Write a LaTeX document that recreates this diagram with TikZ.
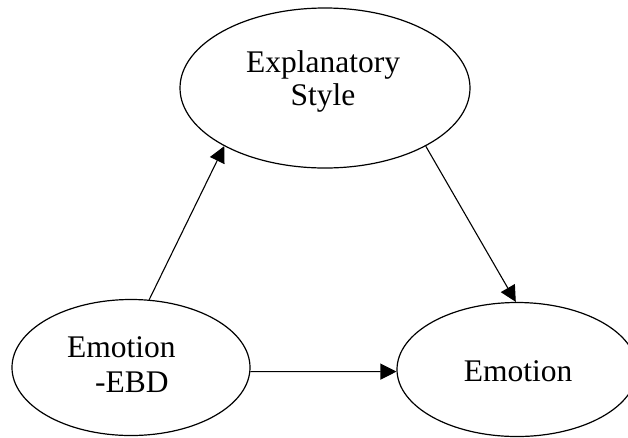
\documentclass[tikz,border=0pt]{standalone}
\usepackage{fontspec}
\setmainfont{Liberation Serif}
\usetikzlibrary{shapes.geometric,arrows.meta}
\tikzset{
  oval/.style={ellipse, draw=black, line width=1.2pt, inner sep=0pt},
  lbl/.style={inner sep=0pt, font=\fontsize{31.5}{33}\selectfont},
  link/.style={draw=black, line width=1.1pt, -{Triangle[length=16pt,width=16pt]}}
}
\begin{document}
\begin{tikzpicture}[x=1pt,y=-1pt]
  \useasboundingbox (0,0) rectangle (628,437);
  \clip (0,0) rectangle (628,437);

  % the three ovals
  \node[oval, minimum width=290pt, minimum height=160pt] (style) at (325,88) {};
  \node[oval, minimum width=238pt, minimum height=136pt] (ebd) at (131,367.5) {};
  \node[oval, minimum width=240pt, minimum height=134pt] (emo) at (517,369.5) {};

  % their labels
  \node[lbl, align=center] (styletext) at (323,81) {Explanatory\\Style};
  \node[lbl, align=left, anchor=west] (ebdtext) at (67,365) {Emotion\\[2pt]\hspace*{28pt}-EBD};
  \node[lbl, anchor=base] (emotext) at (518,381.5) {Emotion};

  % arrows between the ovals
  \draw[link] (ebd.75.6) -- (style.210.3);
  \draw[link] (style.330.4) -- (emo.91.6);
  \draw[link] (ebd.-2.2) -- (emo.181);
\end{tikzpicture}
\end{document}
